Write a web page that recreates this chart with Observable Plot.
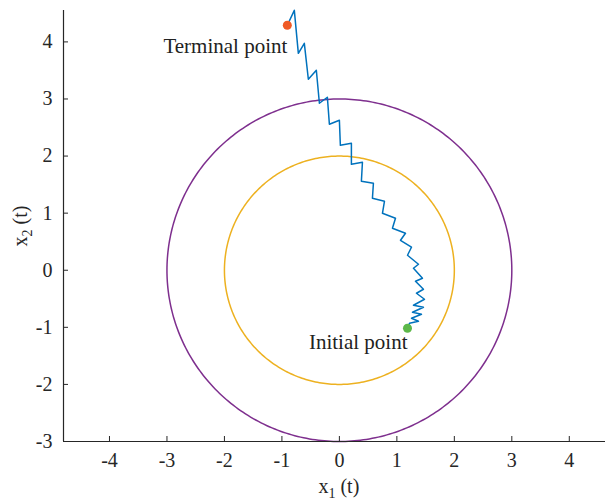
<!DOCTYPE html>
<html><head><meta charset="utf-8">
<script src="https://cdn.jsdelivr.net/npm/d3@7"></script>
<script src="https://cdn.jsdelivr.net/npm/@observablehq/plot@0.6"></script>
<style>body{margin:0;background:#fff}</style>
</head><body><div id="chart"></div>
<script>
const xTicks = [-4, -3, -2, -1, 0, 1, 2, 3, 4];
const yTicks = [-3, -2, -1, 0, 1, 2, 3, 4];
const xDomain = [-4.8, 4.63];
const yDomain = [-3, 4.55];
const circleRadii = [2, 3];
const circleColors = ["#EDB120", "#7E2F8E"];
// trajectory, from initial point to terminal point
const trajX = [1.185, 1.220, 1.376, 1.254, 1.429, 1.272, 1.463, 1.289, 1.481, 1.341, 1.463, 1.324, 1.446, 1.289, 1.376, 1.185, 1.254, 1.063, 1.150, 0.923, 0.976, 0.749, 0.784, 0.575, 0.592, 0.383, 0.401, 0.209, 0.209, 0.017, 0.000, -0.174, -0.209, -0.348, -0.401, -0.540, -0.610, -0.714, -0.784, -0.906];
const trajY = [-1.016, -0.928, -0.893, -0.841, -0.771, -0.736, -0.648, -0.613, -0.508, -0.403, -0.333, -0.193, -0.140, 0.035, 0.105, 0.263, 0.403, 0.525, 0.648, 0.736, 0.911, 0.998, 1.208, 1.261, 1.524, 1.559, 1.891, 1.856, 2.224, 2.189, 2.627, 2.557, 3.030, 2.925, 3.503, 3.345, 3.975, 3.800, 4.553, 4.291];
const pointLabels = ["Initial point", "Terminal point"];
const pointX = [1.185, -0.906];
const pointY = [-1.016, 4.291];
const pointColors = ["#5DB84A", "#EF5A26"];
const xLabel = ["x", "1", " (t)"];
const yLabel = ["x", "2", " (t)"];

const traj = trajX.map((x, i) => ({x, y: trajY[i]}));
const circles = circleRadii.flatMap((r, k) =>
  d3.range(0, 361, 1).map(a => ({k, x: r * Math.cos(a * Math.PI / 180), y: r * Math.sin(a * Math.PI / 180)})));
const pts = pointLabels.map((label, i) => ({label, x: pointX[i], y: pointY[i], color: pointColors[i]}));

const FONT = "Liberation Serif";
const axisColor = "#262626";

const chart = Plot.plot({
  width: 605, height: 500,
  marginLeft: 63, marginRight: 0, marginTop: 10, marginBottom: 59,
  style: {fontFamily: FONT, fontSize: "20px", color: axisColor, background: "#fff", overflow: "visible"},
  x: {domain: xDomain, ticks: xTicks, label: null},
  y: {domain: yDomain, ticks: yTicks, label: null},
  marks: [
    Plot.line(circles, {x: "x", y: "y", z: "k", stroke: d => circleColors[d.k], strokeWidth: 1.5}),
    Plot.line(traj, {x: "x", y: "y", stroke: "#0072BD", strokeWidth: 1.5}),
    Plot.dot(pts, {x: "x", y: "y", fill: "color", r: 4.5}),
    Plot.text([pts[0]], {x: "x", y: "y", text: "label", textAnchor: "end", dy: 14, fontSize: 21, fill: "#222"}),
    Plot.text([pts[1]], {x: "x", y: "y", text: "label", textAnchor: "end", dy: 21, fontSize: 21, fill: "#222"}),
    Plot.ruleY([yDomain[0]], {stroke: axisColor, strokeWidth: 1.2}),
    Plot.ruleX([xDomain[0]], {stroke: axisColor, strokeWidth: 1.2}),
    Plot.axisX(xTicks, {tickSize: -5, tickPadding: 16, stroke: axisColor, fill: axisColor, tickFormat: d => d < 0 ? "-" + Math.abs(d) : String(d)}),
    Plot.axisY(yTicks, {tickSize: -5, tickPadding: 16, stroke: axisColor, fill: axisColor, tickFormat: d => d < 0 ? "-" + Math.abs(d) : String(d)})
  ]
});

const svg = d3.select(chart);
const sx = chart.scale("x");
function addLabel(parts, x, y, rotate) {
  const t = svg.append("text")
    .attr("font-family", FONT).attr("font-size", 20).attr("fill", axisColor)
    .attr("text-anchor", "middle")
    .attr("transform", `translate(${x},${y})` + (rotate ? " rotate(-90)" : ""));
  t.append("tspan").text(parts[0]);
  t.append("tspan").attr("font-size", 14).attr("dy", 5).text(parts[1]);
  t.append("tspan").attr("dy", -5).text(parts[2]);
}
addLabel(xLabel, sx.apply(0), 493, false);
addLabel(yLabel, 27, 226, true);

document.getElementById("chart").append(chart);
</script>
</body></html>
